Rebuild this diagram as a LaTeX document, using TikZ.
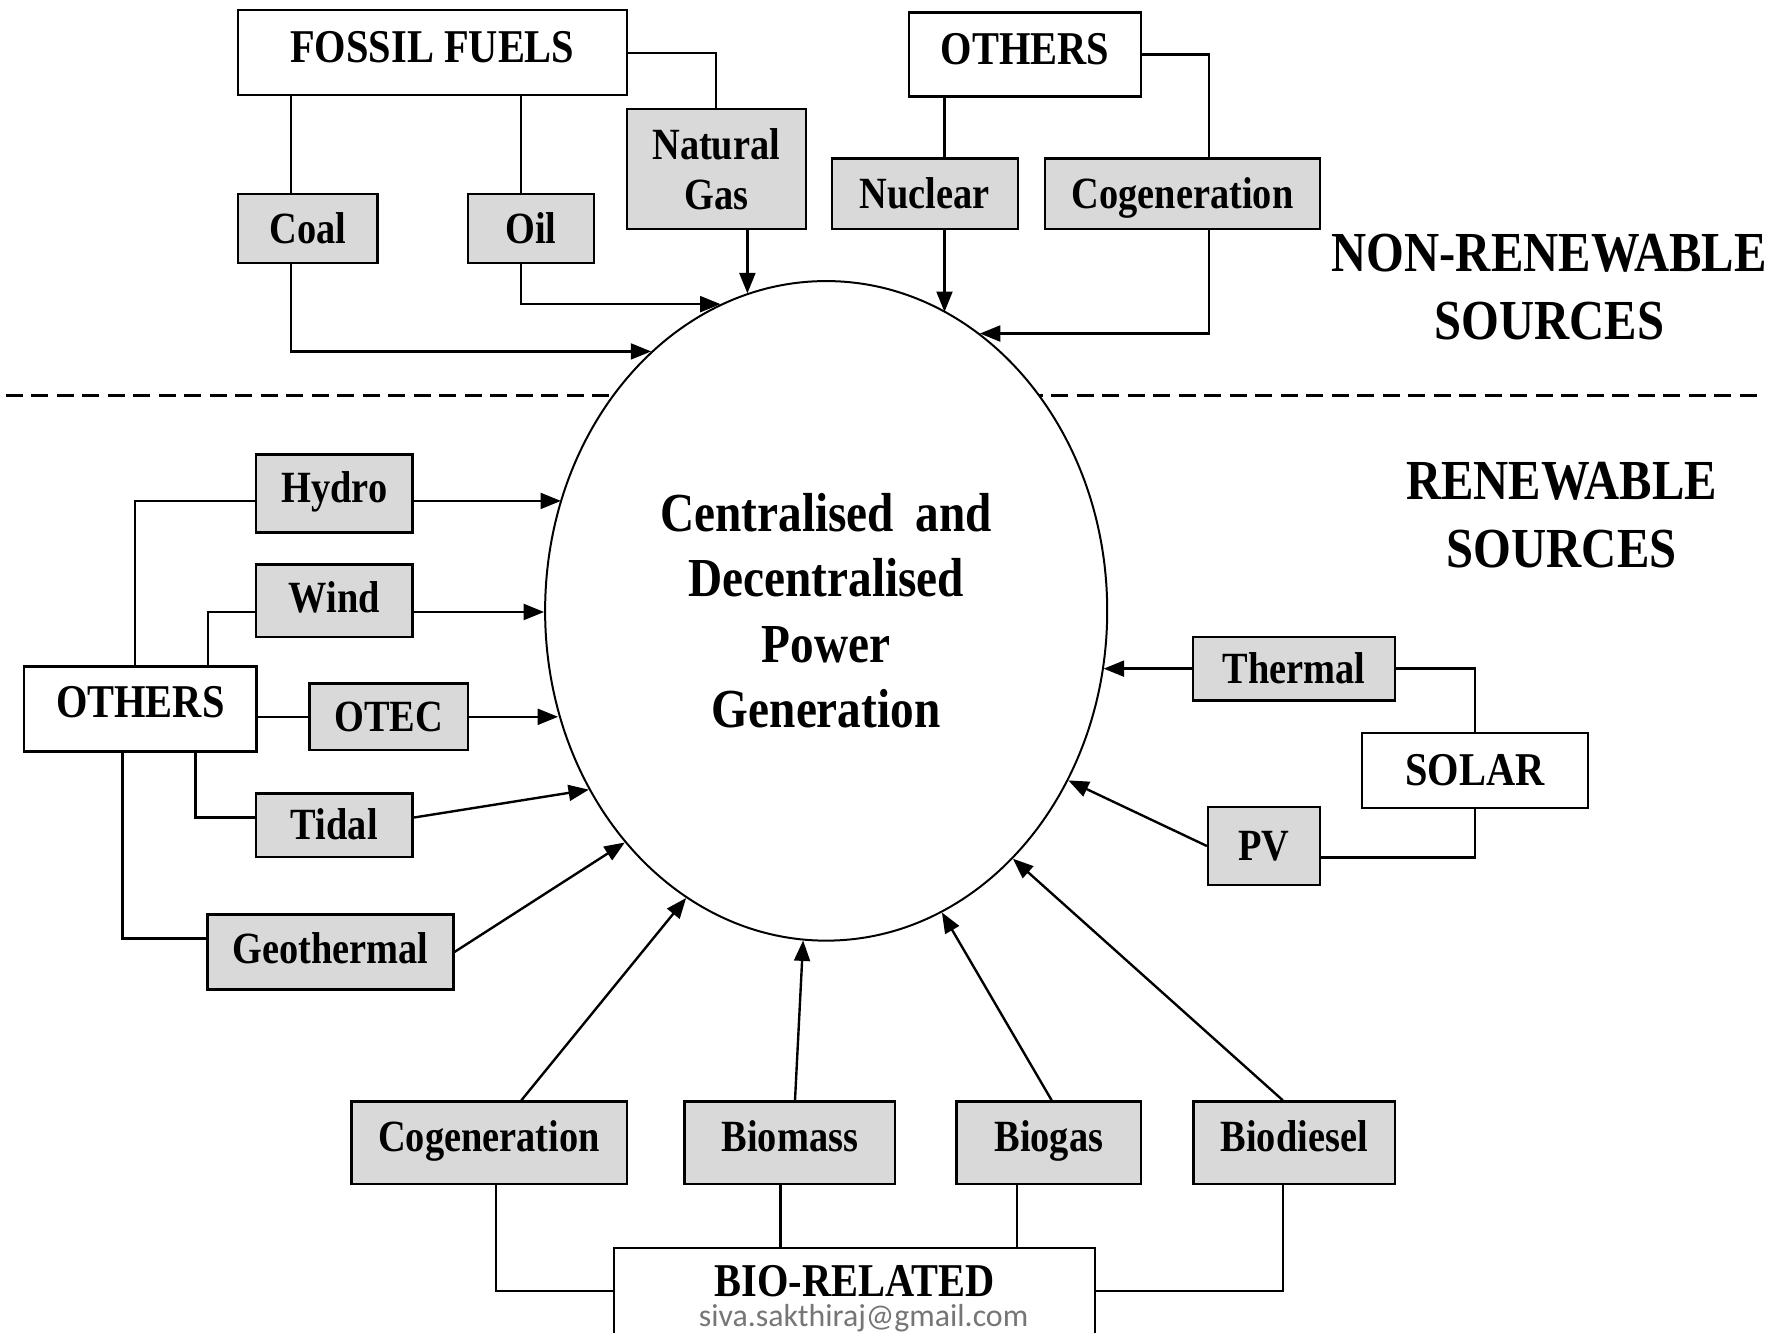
\documentclass[tikz,border=0pt]{standalone}
\usepackage{fontspec}
\setmainfont{Liberation Serif}[FakeStretch=0.86]
\newfontfamily\carlito{Carlito}
\usetikzlibrary{shapes.geometric,arrows.meta}
\definecolor{boxgray}{RGB}{217,217,217}
\definecolor{mailgray}{RGB}{118,118,118}
\begin{document}
\begin{tikzpicture}[x=0.1mm,y=-0.1mm,
  gb/.style={draw, line width=0.6pt, fill=boxgray, inner sep=0pt, align=center,
    font=\bfseries\fontsize{11.2}{12.5}\selectfont},
  gbox/.style={gb, text height=2.6mm, text depth=0pt},
  wbox/.style={draw, line width=0.6pt, fill=white, inner sep=0pt, align=center,
    text height=2.75mm, text depth=1mm, font=\bfseries\fontsize{11.8}{14}\selectfont},
  conn/.style={line width=0.6pt},
  arr/.style={conn, -{Triangle[length=1.8mm,width=1.4mm]}},
  head/.style={align=center, font=\bfseries\fontsize{14.2}{17}\selectfont},
]
\useasboundingbox (0,0) rectangle (1568,1176);

% dashed separator
\coordinate (dl) at (5,349);
\coordinate (dr) at (1550,349);
\draw[line width=0.7pt, dash pattern=on 1.5mm off 0.75mm] (dl) -- (dr);

% central ellipse
\node[ellipse, draw, fill=white, line width=0.5pt, minimum width=49.6mm, minimum height=58.2mm,
  inner sep=0pt, align=center, font=\bfseries\fontsize{13.8}{16.4}\selectfont] (E) at (729,539)
  {Centralised\hspace{2.4pt} and\\Decentralised\\Power\\Generation};

% headings
\node[head] (nonren) at (1367,253) {NON-RENEWABLE\\SOURCES};
\node[head] (ren) at (1378,454.5) {RENEWABLE\\SOURCES};

% non-renewable boxes
\node[wbox, minimum width=34.3mm, minimum height=7.5mm, text depth=1.1mm] (ff) at (381.5,46.5) {FOSSIL FUELS};
\node[gb, minimum width=15.8mm, minimum height=10.6mm] (ng) at (632,149) {Natural\\Gas};
\node[gbox, minimum width=12.3mm, minimum height=6.1mm] (coal) at (271.5,201.5) {Coal};
\node[gbox, minimum width=11.1mm, minimum height=6.1mm] (oil) at (468.5,201.5) {Oil};
\node[wbox, minimum width=20.5mm, minimum height=7.4mm] (oth1) at (904.5,48) {OTHERS};
\node[gbox, minimum width=16.4mm, minimum height=6.2mm] (nuc) at (816,171) {Nuclear};
\node[gbox, minimum width=24.3mm, minimum height=6.2mm] (cog1) at (1043.5,171) {Cogeneration};

% renewable: others
\node[wbox, minimum width=20.55mm, minimum height=7.5mm, text depth=1.3mm] (oth2) at (123.75,625.5) {OTHERS};
\node[gbox, minimum width=13.8mm, minimum height=6.9mm, text depth=1mm] (hydro) at (295,435.5) {Hydro};
\node[gbox, minimum width=13.8mm, minimum height=6.4mm, text depth=0.5mm] (wind) at (295,530) {Wind};
\node[gbox, minimum width=14.0mm, minimum height=5.9mm] (otec) at (343,632.5) {OTEC};
\node[gbox, minimum width=13.8mm, minimum height=5.6mm] (tidal) at (295,728) {Tidal};
\node[gbox, minimum width=21.7mm, minimum height=6.6mm, text depth=0.6mm] (geo) at (291.5,840) {Geothermal};

% solar
\node[gbox, minimum width=17.85mm, minimum height=5.6mm] (therm) at (1141.75,590) {Thermal};
\node[wbox, minimum width=19.9mm, minimum height=6.6mm, text depth=0.2mm] (solar) at (1301.5,680) {SOLAR};
\node[gbox, minimum width=9.85mm, minimum height=6.9mm] (pv) at (1115.25,746.5) {PV};

% bio
\node[gbox, minimum width=24.3mm, minimum height=7.3mm, text depth=1.1mm] (cog2) at (431.5,1008.5) {Cogeneration};
\node[gbox, minimum width=18.6mm, minimum height=7.3mm, text depth=1.1mm] (biomass) at (697,1008.5) {Biomass};
\node[gbox, minimum width=16.3mm, minimum height=7.3mm, text depth=1.1mm] (biogas) at (925.5,1008.5) {Biogas};
\node[gbox, minimum width=17.8mm, minimum height=7.3mm, text depth=1.1mm] (biodiesel) at (1142,1008.5) {Biodiesel};
\node[wbox, minimum width=42.4mm, minimum height=8.9mm, text depth=3.0mm] (bio) at (754,1145.5) {BIO-RELATED};
\node[font=\carlito\fontsize{8}{9}\selectfont, text=mailgray, inner sep=0pt] (email) at (762,1163) {siva.sakthiraj@gmail.com};

% connectors: fossil fuels
\draw[conn] (ff.east) -| (ng.north);
\draw[conn] ([xshift=-1.45mm]coal.north) -- ([xshift=-1.45mm]coal.north |- ff.south);
\draw[conn] ([xshift=-0.9mm]oil.north) -- ([xshift=-0.9mm]oil.north |- ff.south);
\draw[arr] ([xshift=-1.45mm]coal.south) |- (E.124);
\draw[arr] ([xshift=-0.9mm]oil.south) |- (E.109.8);
\draw[arr] ([xshift=2.75mm]ng.south) -- ([xshift=2.75mm]ng.south |- E.104.1);

% connectors: others (non-renewable)
\draw[conn] ([xshift=1.74mm]nuc.north) -- ([xshift=1.74mm]nuc.north |- oth1.south);
\draw[conn] (oth1.east) -| ([xshift=2.35mm]cog1.north);
\draw[arr] ([xshift=1.74mm]nuc.south) -- ([xshift=1.74mm]nuc.south |- E.68.5);
\draw[arr] ([xshift=2.35mm]cog1.south) |- (E.61);

% connectors: others (renewable)
\draw[conn] ([xshift=-0.45mm]oth2.north) |- ([yshift=-0.65mm]hydro.west);
\draw[conn] ([xshift=5.98mm]oth2.north) |- ([yshift=-1mm]wind.west);
\draw[conn] (oth2.east |- otec.west) -- (otec.west);
\draw[conn] ([xshift=4.88mm]oth2.south) |- ([yshift=0.66mm]tidal.west);
\draw[conn] ([xshift=-1.55mm]oth2.south) |- ([yshift=1.2mm]geo.west);
\draw[arr] ([yshift=-0.65mm]hydro.east) -- ([yshift=-0.65mm]hydro.east -| E.157.5);
\draw[arr] ([yshift=-1mm]wind.east) -- ([yshift=-1mm]wind.east -| E.180);
\draw[arr] (otec.east) -- (otec.east -| E.201.6);
\draw[arr] ([yshift=0.66mm]tidal.east) -- (E.217.9);
\draw[arr] (geo.east) -- (E.229.9);

% connectors: solar
\draw[conn] (therm.east) -| (solar.north);
\draw[conn] (solar.south) |- ([yshift=-1mm]pv.east);
\draw[arr] (therm.west) -- (therm.west -| E.348.2);
\draw[arr] (pv.west) -- (E.325.5);

% connectors: bio
\draw[conn] ([xshift=0.6mm]cog2.south) |- ([yshift=0.65mm]bio.west);
\draw[conn] ([xshift=-0.84mm]biomass.south) -- ([xshift=-0.84mm]biomass.south |- bio.north);
\draw[conn] ([xshift=-2.79mm]biogas.south) -- ([xshift=-2.79mm]biogas.south |- bio.north);
\draw[conn] ([xshift=-1mm]biodiesel.south) |- ([yshift=0.65mm]bio.east);
\draw[arr] ([xshift=2.85mm]cog2.north) -- (E.244);
\draw[arr] ([xshift=0.45mm]biomass.north) -- (E.266.3);
\draw[arr] ([xshift=0.25mm]biogas.north) -- (E.291.6);
\draw[arr] ([xshift=-1mm]biodiesel.north) -- (E.307.8);
\end{tikzpicture}
\end{document}
